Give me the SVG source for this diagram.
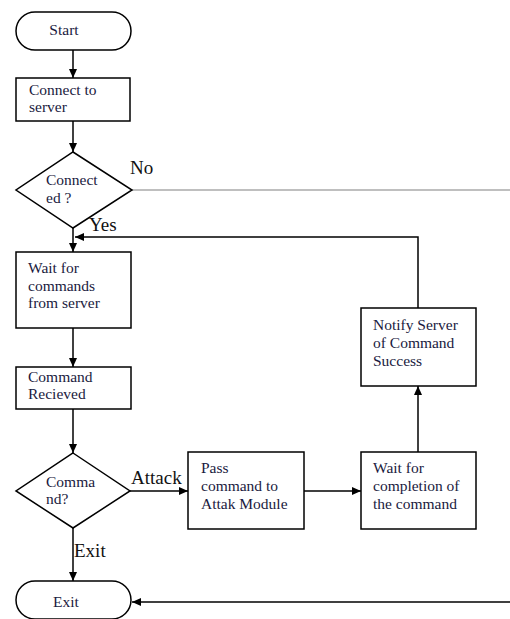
<svg xmlns="http://www.w3.org/2000/svg" width="510" height="619" viewBox="0 0 510 619">
  <style>
    .box { fill: #fff; stroke: #000; stroke-width: 1.5; }
    .txt { font-family: "Liberation Serif", "Times New Roman", serif; font-size: 15.5px; fill: #1a1a40; }
    .lbl { font-family: "Liberation Serif", "Times New Roman", serif; font-size: 19px; fill: #111; }
    .ln { fill: none; stroke: #000; stroke-width: 1.5; }
    .grey { fill: none; stroke: #aaa; stroke-width: 1.5; }
  </style>
  <defs>
    <marker id="arr" markerWidth="10" markerHeight="10" refX="9" refY="5" orient="auto" markerUnits="userSpaceOnUse">
      <path d="M0,1 L9,5 L0,9 Z" fill="#000"/>
    </marker>
  </defs>
  <rect width="510" height="619" fill="#fff"/>

  <g id="connectors">
    <line class="ln" x1="73" y1="50" x2="73" y2="78" marker-end="url(#arr)"/>
    <line class="ln" x1="73" y1="121" x2="73" y2="152" marker-end="url(#arr)"/>
    <line class="grey" x1="132" y1="190" x2="510" y2="190"/>
    <line class="ln" x1="73" y1="228" x2="73" y2="252" marker-end="url(#arr)"/>
    <polyline class="ln" points="418,308 418,237 75,237" marker-end="url(#arr)"/>
    <line class="ln" x1="73" y1="328" x2="73" y2="367" marker-end="url(#arr)"/>
    <line class="ln" x1="73" y1="409" x2="73" y2="453" marker-end="url(#arr)"/>
    <line class="ln" x1="130" y1="491" x2="188" y2="491" marker-end="url(#arr)"/>
    <line class="ln" x1="304" y1="491" x2="361" y2="491" marker-end="url(#arr)"/>
    <line class="ln" x1="418" y1="452" x2="418" y2="386" marker-end="url(#arr)"/>
    <line class="ln" x1="73" y1="528" x2="73" y2="581" marker-end="url(#arr)"/>
    <line class="ln" x1="510" y1="602" x2="132" y2="602" marker-end="url(#arr)"/>
    <text class="lbl" x="130" y="174">No</text>
    <text class="lbl" x="89" y="231">Yes</text>
    <text class="lbl" x="131" y="484">Attack</text>
    <text class="lbl" x="74" y="557">Exit</text>
  </g>

  <g id="start">
    <rect class="box" x="16" y="12" width="115" height="38" rx="19"/>
    <text class="txt" x="64" y="35" text-anchor="middle">Start</text>
  </g>

  <g id="connect">
    <rect class="box" x="16" y="78" width="114" height="43"/>
    <text class="txt" x="29" y="95">Connect to</text>
    <text class="txt" x="29" y="112">server</text>
  </g>

  <g id="connected">
    <polygon class="box" points="73,152 132,190 73,228 16,190"/>
    <text class="txt" x="46" y="185">Connect</text>
    <text class="txt" x="46" y="203">ed ?</text>
  </g>

  <g id="wait-commands">
    <rect class="box" x="16" y="252" width="115" height="76"/>
    <text class="txt" x="28" y="273">Wait for</text>
    <text class="txt" x="28" y="291">commands</text>
    <text class="txt" x="28" y="308">from server</text>
  </g>

  <g id="received">
    <rect class="box" x="16" y="367" width="115" height="42"/>
    <text class="txt" x="28" y="382">Command</text>
    <text class="txt" x="28" y="399">Recieved</text>
  </g>

  <g id="command">
    <polygon class="box" points="73,453 130,491 73,528 16,491"/>
    <text class="txt" x="46" y="487">Comma</text>
    <text class="txt" x="46" y="504">nd?</text>
  </g>

  <g id="pass">
    <rect class="box" x="188" y="452" width="116" height="77"/>
    <text class="txt" x="201" y="473">Pass</text>
    <text class="txt" x="201" y="491">command to</text>
    <text class="txt" x="201" y="509">Attak Module</text>
  </g>

  <g id="wait-completion">
    <rect class="box" x="361" y="452" width="115" height="77"/>
    <text class="txt" x="373" y="473">Wait for</text>
    <text class="txt" x="373" y="491">completion of</text>
    <text class="txt" x="373" y="509">the command</text>
  </g>

  <g id="notify">
    <rect class="box" x="361" y="308" width="115" height="78"/>
    <text class="txt" x="373" y="330">Notify Server</text>
    <text class="txt" x="373" y="348">of Command</text>
    <text class="txt" x="373" y="366">Success</text>
  </g>

  <g id="exit">
    <rect class="box" x="16" y="581" width="115" height="38" rx="19"/>
    <text class="txt" x="66" y="607" text-anchor="middle">Exit</text>
  </g>
</svg>
